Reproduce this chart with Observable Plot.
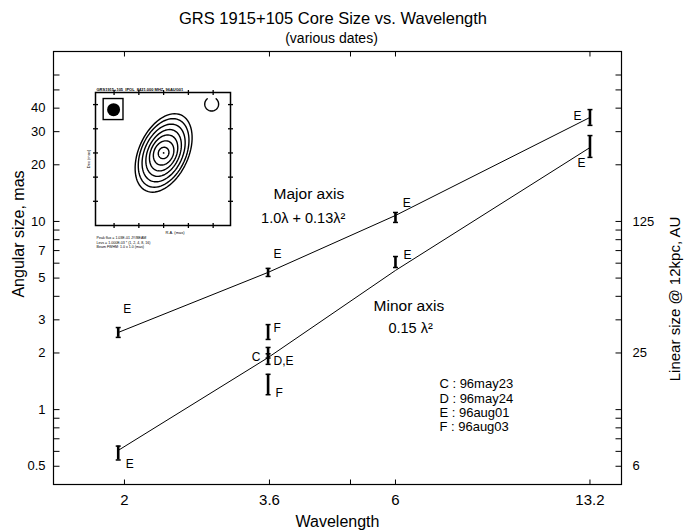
<!DOCTYPE html>
<html>
<head>
<meta charset="utf-8">
<script src="https://cdn.jsdelivr.net/npm/d3@7"></script>
<script src="https://cdn.jsdelivr.net/npm/@observablehq/plot@0.6"></script>
<style>
html, body { margin: 0; padding: 0; background: #fff; }
#chart { position: relative; width: 684px; height: 530px; }
#inset { position: absolute; left: 80px; top: 84px; }
</style>
</head>
<body>
<div id="chart"><div id="inset"></div></div>
<script>
// ---------- text ----------
const title = "GRS 1915+105 Core Size vs. Wavelength";
const subtitle = "(various dates)";
const xLabel = "Wavelength";
const yLabel = "Angular size, mas";
const y2Label = "Linear size @ 12kpc, AU";

// ---------- axes ----------
const xTicks = [2, 3.6, 5, 6, 13.2];
const xTickLabelValues = [2, 3.6, 6, 13.2];
const xTickLabels = ["2", "3.6", "6", "13.2"];
const yTicks = [0.5, 0.6, 0.7, 0.8, 0.9, 1, 2, 3, 4, 5, 6, 7, 8, 9, 10, 20, 30, 40, 50, 60];
const yTickLabelValues = [0.5, 1, 2, 3, 5, 7, 10, 20, 30, 40];
const yTickLabels = ["0.5", "1", "2", "3", "5", "7", "10", "20", "30", "40"];
const y2TickLabelValues = [10, 2, 0.5];
const y2TickLabels = ["125", "25", "6"];

// ---------- measurements (wavelength cm, size range mas) ----------
const barWavelength = [1.95, 1.95, 3.58, 3.58, 3.58, 3.58, 3.58, 6, 6, 13.2, 13.2];
const barLow  = [2.42, 0.54, 5.10, 2.36, 1.88, 1.74, 1.20, 9.88, 5.69, 32.4, 21.9];
const barHigh = [2.73, 0.64, 5.63, 2.83, 2.14, 1.98, 1.54, 11.16, 6.51, 39.3, 28.6];

// ---------- fitted curves ----------
const fitWavelength = [1.95, 3.58, 6, 13.2];
const majorFit = [2.57, 5.36, 10.76, 35.7];
const minorFit = [0.607, 1.89, 5.49, 24.7];

// ---------- epoch labels next to points ----------
const pointLabelText = ["E", "E", "E", "F", "C", "D,E", "F", "E", "E", "E", "E"];
const pointLabelX = [1.99, 2.01, 3.66, 3.66, 3.35, 3.66, 3.69, 6.18, 6.20, 12.35, 12.55];
const pointLabelY = [3.28, 0.487, 6.43, 2.60, 1.82, 1.72, 1.17, 11.87, 6.28, 34.4, 19.35];

// ---------- annotations ----------
const noteText = ["Major axis", "Minor axis"];
const noteX = [3.66, 5.49];
const noteY = [13.2, 3.36];
const formulaText = ["1.0λ + 0.13λ²", "0.15 λ²"];
const formulaX = [3.48, 5.83];
const formulaY = [9.76, 2.54];
const legendText = ["C : 96may23", "D : 96may24", "E : 96aug01", "F : 96aug03"];
const legendX = [7.17, 7.17, 7.17, 7.17];
const legendY = [1.296, 1.078, 0.909, 0.766];

// ---------- inset map ----------
const insetTicks = [-2, -1, 0, 1, 2];
const contourA = [1.72, 1.50, 1.26, 1.02, 0.78, 0.52, 0.24];
const contourB = [1.00, 0.90, 0.77, 0.64, 0.52, 0.39, 0.21];
const contourTilt = 66;
const beamBoxX = [-2.42, -1.62];
const beamBoxY = [1.36, 2.23];
const beamCenter = [-2.02, 1.79];
const ringCenter = [1.94, 2.02];
const ringRadius = 0.28;
const insetTitle = "GRS1915+105  IPOL  8421.000 MHZ  96AUG01";
const insetXLabel = "R.A. (mas)";
const insetYLabel = "Dec (mas)";
const insetNotes = ["Peak flux = 1.03E-01 JY/BEAM", "Levs = 1.000E-03 * (1, 2, 4, 8, 16)", "Beam FWHM: 1.0 x 1.0 (mas)"];

// ---------- helpers ----------
const font = "'Liberation Sans', Arial, Helvetica, sans-serif";
const seg = (x1, y1, x2, y2) => ({draw(ctx) { ctx.moveTo(x1, y1); ctx.lineTo(x2, y2); }});
const tickDots = (values, anchor, sym, sw = 1) => Plot.dot(values, {
  [anchor === "left" || anchor === "right" ? "y" : "x"]: d => d,
  frameAnchor: anchor, symbol: sym, r: 3, fill: "none", stroke: "black", strokeWidth: sw
});

const bars = barWavelength.map((w, i) => ({w, lo: barLow[i], hi: barHigh[i]}));
const majorLine = fitWavelength.map((w, i) => ({w, v: majorFit[i]}));
const minorLine = fitWavelength.map((w, i) => ({w, v: minorFit[i]}));
const pointLabels = pointLabelText.map((t, i) => ({t, x: pointLabelX[i], y: pointLabelY[i]}));
const notes = noteText.map((t, i) => ({t, x: noteX[i], y: noteY[i]}));
const formulas = formulaText.map((t, i) => ({t, x: formulaX[i], y: formulaY[i]}));
const legend = legendText.map((t, i) => ({t, x: legendX[i], y: legendY[i]}));

const main = Plot.plot({
  width: 684, height: 530,
  marginTop: 51, marginBottom: 46, marginLeft: 53, marginRight: 63,
  x: {type: "log", domain: [1.5, 15], axis: null},
  y: {type: "log", domain: [0.4, 80], axis: null},
  style: {fontFamily: font, color: "black", background: "white"},
  marks: [
    Plot.frame({stroke: "black", strokeWidth: 1.2}),
    tickDots(yTicks, "left", seg(0, 0, 6, 0)),
    tickDots(yTicks, "right", seg(0, 0, -6, 0)),
    tickDots(xTicks, "bottom", seg(0, 0, 0, -5)),
    tickDots(xTicks, "top", seg(0, 0, 0, 5)),
    Plot.text(yTickLabelValues, {y: d => d, text: (d, i) => yTickLabels[i], frameAnchor: "left", textAnchor: "end", lineAnchor: "middle", dx: -8, fontSize: 13}),
    Plot.text(y2TickLabelValues, {y: d => d, text: (d, i) => y2TickLabels[i], frameAnchor: "right", textAnchor: "start", lineAnchor: "middle", dx: 11, fontSize: 13}),
    Plot.text(xTickLabelValues, {x: d => d, text: (d, i) => xTickLabels[i], frameAnchor: "bottom", textAnchor: "middle", lineAnchor: "middle", dy: 16, fontSize: 15}),
    Plot.text([xLabel], {text: d => d, frameAnchor: "bottom", textAnchor: "middle", lineAnchor: "bottom", dy: 42, fontSize: 16}),
    Plot.text([yLabel], {text: d => d, frameAnchor: "left", textAnchor: "middle", lineAnchor: "middle", rotate: -90, dx: -35, dy: -34, fontSize: 16}),
    Plot.text([y2Label], {text: d => d, frameAnchor: "right", textAnchor: "middle", lineAnchor: "middle", rotate: -90, dx: 54, dy: 31, fontSize: 15}),
    Plot.text([title], {text: d => d, frameAnchor: "top", textAnchor: "middle", lineAnchor: "bottom", dx: -4.5, dy: -28, fontSize: 16.5}),
    Plot.text([subtitle], {text: d => d, frameAnchor: "top", textAnchor: "middle", lineAnchor: "bottom", dx: -6, dy: -9, fontSize: 14}),
    Plot.line(majorLine, {x: "w", y: "v", stroke: "black", strokeWidth: 1}),
    Plot.line(minorLine, {x: "w", y: "v", stroke: "black", strokeWidth: 1}),
    Plot.ruleX(bars, {x: "w", y1: "lo", y2: "hi", stroke: "black", strokeWidth: 2.6}),
    Plot.dot(bars, {x: "w", y: "lo", symbol: seg(-2.5, 0, 2.5, 0), fill: "none", stroke: "black", strokeWidth: 1.5}),
    Plot.dot(bars, {x: "w", y: "hi", symbol: seg(-2.5, 0, 2.5, 0), fill: "none", stroke: "black", strokeWidth: 1.5}),
    Plot.text(pointLabels, {x: "x", y: "y", text: "t", textAnchor: "start", lineAnchor: "bottom", fontSize: 12}),
    Plot.text(notes, {x: "x", y: "y", text: "t", textAnchor: "start", lineAnchor: "bottom", fontSize: 15.5}),
    Plot.text(formulas, {x: "x", y: "y", text: "t", textAnchor: "start", lineAnchor: "bottom", fontSize: 14.5}),
    Plot.text(legend, {x: "x", y: "y", text: "t", textAnchor: "start", lineAnchor: "bottom", fontSize: 13})
  ]
});
document.getElementById("chart").insertBefore(main, document.getElementById("inset"));

// ---------- inset ----------
const phi = contourTilt * Math.PI / 180;
const contourPts = [];
contourA.forEach((a, c) => {
  const b = contourB[c];
  for (let k = 0; k <= 72; k++) {
    const t = k * 2 * Math.PI / 72;
    contourPts.push({c, x: a * Math.cos(t) * Math.cos(phi) - b * Math.sin(t) * Math.sin(phi),
                        y: a * Math.cos(t) * Math.sin(phi) + b * Math.sin(t) * Math.cos(phi)});
  }
});
const ringPts = [];
for (let k = 0; k <= 40; k++) {
  const t = (130 + k * 280 / 40) * Math.PI / 180;
  ringPts.push({x: ringCenter[0] + ringRadius * Math.cos(t), y: ringCenter[1] + ringRadius * 1.02 * Math.sin(t)});
}
const cross = seg(-2.5, 0, 2.5, 0);
const crossV = seg(0, -2.5, 0, 2.5);
const inset = Plot.plot({
  width: 160, height: 166,
  marginLeft: 15, marginRight: 10, marginTop: 8, marginBottom: 25,
  x: {domain: [-2.75, 2.7], axis: null},
  y: {domain: [-3, 2.5], axis: null},
  style: {fontFamily: font, color: "black", background: "transparent"},
  marks: [
    Plot.frame({stroke: "black", strokeWidth: 1.5}),
    tickDots(insetTicks, "left", cross, 1.3),
    tickDots(insetTicks, "right", cross, 1.3),
    tickDots(insetTicks, "bottom", crossV, 1.3),
    tickDots(insetTicks, "top", crossV, 1.3),
    Plot.line(contourPts, {x: "x", y: "y", z: "c", stroke: "black", strokeWidth: 1.4, curve: "linear-closed"}),
    Plot.dot([0], {x: 0, y: 0, r: 0.9, fill: "black"}),
    Plot.rect([0], {x1: beamBoxX[0], x2: beamBoxX[1], y1: beamBoxY[0], y2: beamBoxY[1], fill: "none", stroke: "black", strokeWidth: 1.4}),
    Plot.dot([0], {x: beamCenter[0], y: beamCenter[1], r: 6.5, fill: "black"}),
    Plot.line(ringPts, {x: "x", y: "y", stroke: "black", strokeWidth: 1.4}),
    Plot.text([insetTitle], {text: d => d, frameAnchor: "top-left", textAnchor: "start", lineAnchor: "bottom", dx: 1, dy: -1.5, fontSize: 4, fontWeight: "bold"}),
    Plot.text([insetXLabel], {text: d => d, frameAnchor: "bottom", textAnchor: "middle", lineAnchor: "bottom", dx: 12, dy: 8, fontSize: 4}),
    Plot.text([insetYLabel], {text: d => d, frameAnchor: "left", textAnchor: "middle", lineAnchor: "middle", rotate: -90, dx: -7, fontSize: 4}),
    Plot.text([insetNotes.join("\n")], {text: d => d, frameAnchor: "bottom-left", textAnchor: "start", lineAnchor: "top", lineHeight: 1.15, dx: 1, dy: 11, fontSize: 3.6})
  ]
});
document.getElementById("inset").appendChild(inset);
</script>
</body>
</html>
